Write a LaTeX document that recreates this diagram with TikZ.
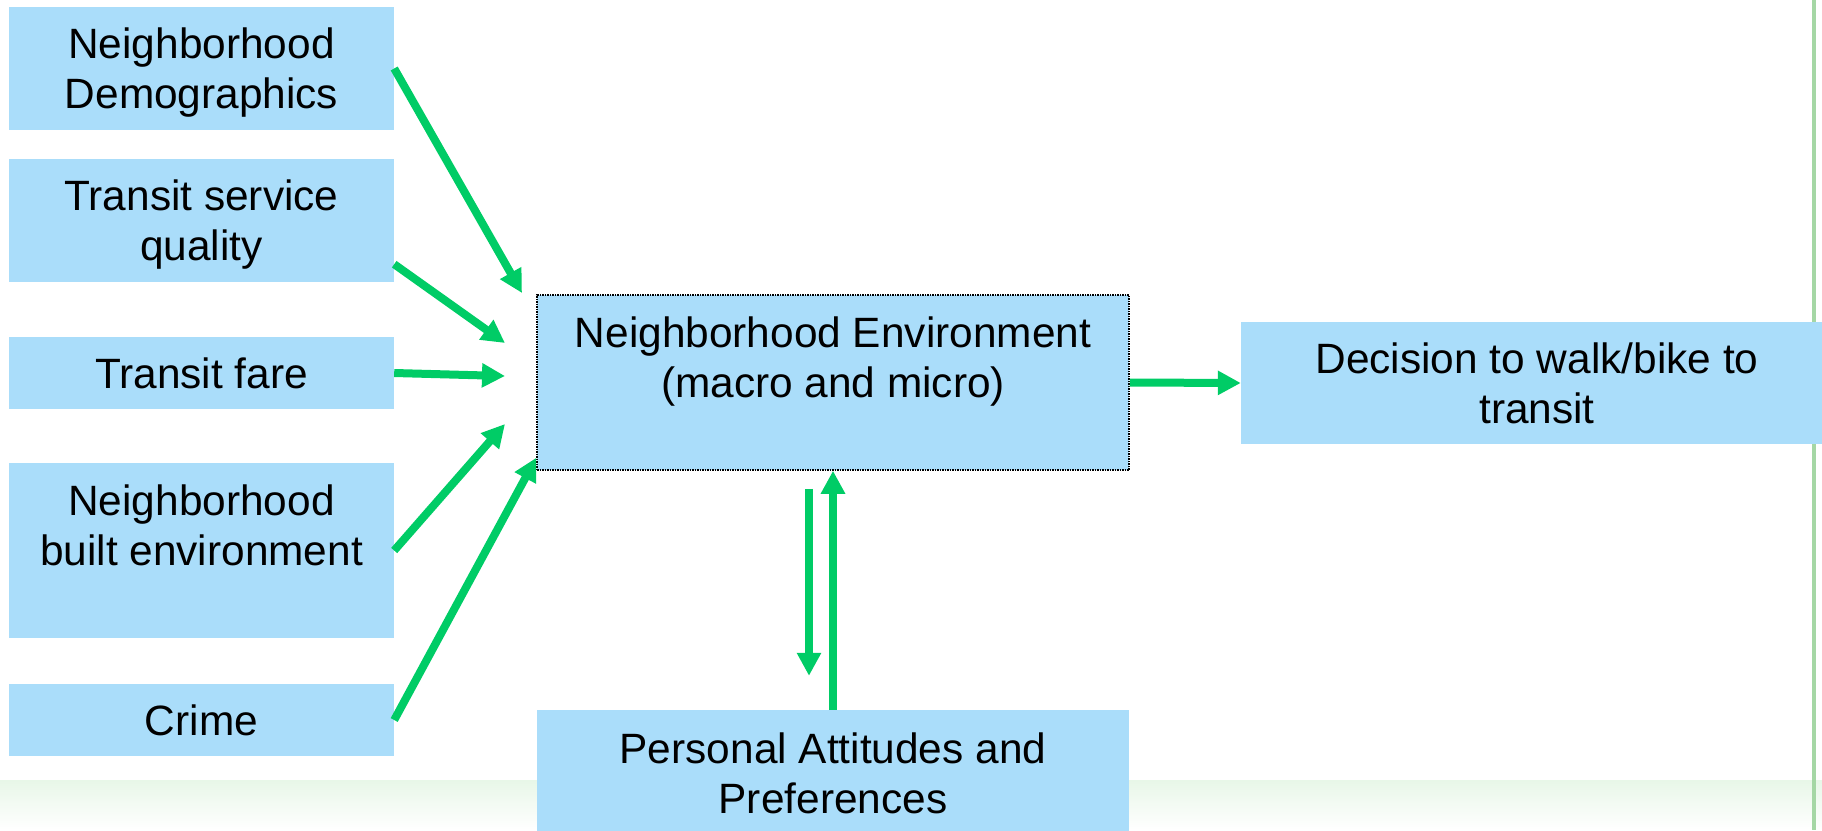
\documentclass[tikz,border=0pt]{standalone}
\usepackage{fontspec}
\setmainfont{Liberation Sans}
\usetikzlibrary{arrows.meta}
\definecolor{boxblue}{RGB}{170,221,250}
\definecolor{arrowgreen}{RGB}{0,204,102}
\definecolor{edgegreen}{RGB}{165,215,165}
\definecolor{bandgreen}{RGB}{232,247,232}

\begin{document}
\begin{tikzpicture}
[x=1pt,y=-1pt,%
  box/.style={fill=boxblue,inner sep=0pt,align=center,%
    font=\fontsize{42.4pt}{50pt}\selectfont},%
  leftbox/.style={box,minimum width=385pt},%
  link/.style={-{Triangle[width=23pt,length=23pt]},line width=8pt,draw=arrowgreen}]
\useasboundingbox (0,0) rectangle (1822,830);
\shade[top color=bandgreen,bottom color=white] (0,780) rectangle (1822,830);
\draw[edgegreen,line width=3.5pt] (1814,0) -- (1814,830);

\node[leftbox,minimum height=123pt,text depth=0pt] (demo) at (201.5,68.5) {Neighborhood\\Demographics};
\node[leftbox,minimum height=123pt,text depth=0pt] (quality) at (201.5,220.5) {Transit service\\quality};
\node[leftbox,minimum height=72pt] (fare) at (201.5,373) {Transit fare};
\node[leftbox,minimum height=175pt] (built) at (201.5,550.5) {Neighborhood\\built environment\\\mbox{}};
\node[leftbox,minimum height=72pt] (crime) at (201.5,720) {Crime};

\node[box,draw=black,densely dotted,line width=1.5pt,minimum width=592pt,minimum height=175pt]
  (env) at (833,382.5) {Neighborhood Environment\\(macro and micro)\\\mbox{}};
\node[box,minimum width=592pt,minimum height=122pt] (dec) at (1537,383) {Decision to walk/bike to\\transit};
\node[box,minimum width=592pt,minimum height=126pt] (pers) at (833,773) {Personal Attitudes and\\Preferences};

\coordinate (inDemo) at (522,293);
\coordinate (inQuality) at (505,343);
\coordinate (inFare) at (505,376);
\coordinate (inBuilt) at (505,424);

\draw[link] (demo.east) -- (inDemo);
\draw[link] ([yshift=18pt]quality.south east) -- (inQuality);
\draw[link] (fare.east) -- (inFare);
\draw[link] (built.east) -- (inBuilt);
\draw[link] (crime.east) -- ([yshift=13pt]env.south west);
\draw[link] (env.east) -- (dec.west);
\draw[link] ([xshift=-24pt,yshift=-18pt]env.south) -- ([xshift=-24pt,yshift=34pt]pers.north);
\draw[link] (pers.north) -- (env.south);
\end{tikzpicture}
\end{document}
